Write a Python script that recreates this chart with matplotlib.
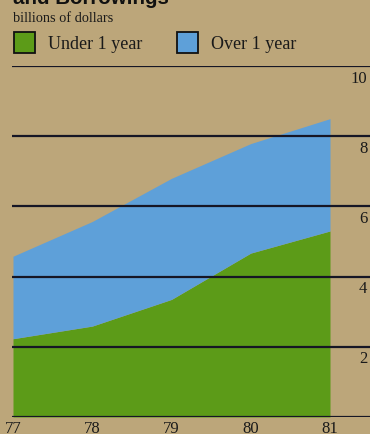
import matplotlib
matplotlib.use("Agg")
import matplotlib.pyplot as plt
from matplotlib.patches import Rectangle
import matplotlib.transforms as mtransforms

years = [77, 78, 79, 80, 81]
under_1_year = [2.23, 2.59, 3.35, 4.67, 5.30]
total = [4.58, 5.57, 6.80, 7.79, 8.50]
y_ticks = [2, 4, 6, 8, 10]
x_labels = ["77", "78", "79", "80", "81"]

BG = "#BCA67A"
GREEN = "#5C9B18"
BLUE = "#5EA0D9"
LINE = "#161625"
SERIF = ["Liberation Serif", "DejaVu Serif"]

W, H = 370, 435
fig = plt.figure(figsize=(W / 100, H / 100), dpi=100, facecolor=BG)

# plot area: x from px 12 to 370, y value 0 at px 418, 10 at px 67
left_px, right_px = 12, 370
y0_px, y10_px = 418, 67
ax = fig.add_axes([left_px / W, (H - y0_px) / H, (right_px - left_px) / W, (y0_px - y10_px) / H])
ax.set_facecolor(BG)
px_per_year = (330 - 13) / 4
x_lo = 77 - (13 - left_px) / px_per_year
x_hi = 77 + (right_px - 13) / px_per_year
ax.set_xlim(x_lo, x_hi)
ax.set_ylim(0, 10)
ax.axis("off")

ax.fill_between(years, 0, under_1_year, color=GREEN, lw=0, zorder=1)
ax.fill_between(years, under_1_year, total, color=BLUE, lw=0, zorder=1)

for v in [0] + y_ticks:
    ax.axhline(v, color=LINE, lw=1.6, zorder=3)

trans = mtransforms.blended_transform_factory(ax.transAxes, ax.transData)
for v in y_ticks:
    ax.text(0.993, v - 0.1, str(v), transform=trans, ha="right", va="top",
            fontsize=12, family=SERIF, color="#1a1a1a", zorder=4)
for x, lab in zip(years, x_labels):
    ax.text(x, -0.08, lab, ha="center", va="top", fontsize=12, family=SERIF,
            color="#1a1a1a", clip_on=False, zorder=4)

# header
fig.text(13 / W, 1 - 4 / H, "and Borrowings", ha="left", va="baseline",
         fontsize=14.8, fontweight="bold", family=["Liberation Sans", "DejaVu Sans"],
         color="#111111")
fig.text(13 / W, 1 - 22 / H, "billions of dollars", ha="left", va="baseline",
         fontsize=10.3, family=SERIF, color="#1a1a1a")

# legend
sq = 21
for x0, color, label in [(14, GREEN, "Under 1 year"), (177, BLUE, "Over 1 year")]:
    fig.patches.append(Rectangle((x0 / W, 1 - 54 / H), sq / W, sq / H, transform=fig.transFigure,
                                 facecolor=color, edgecolor="#111111", lw=1.3))
    fig.text((x0 + 34) / W, 1 - 49 / H, label, ha="left", va="baseline",
             fontsize=13, family=SERIF, color="#1a1a1a")

fig.savefig("out.png", dpi=100, facecolor=BG)
